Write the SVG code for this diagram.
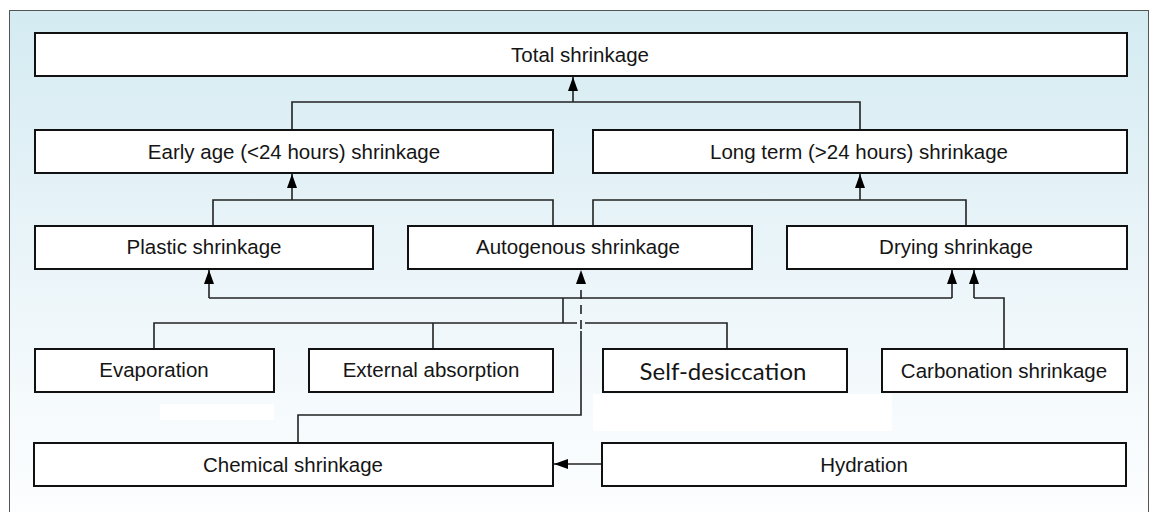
<svg xmlns="http://www.w3.org/2000/svg" width="1151" height="512" viewBox="0 0 1151 512">
  <defs>
    <linearGradient id="bg" x1="0" y1="0" x2="0" y2="1">
      <stop offset="0" stop-color="#d4ebf2"/>
      <stop offset="0.5" stop-color="#ebf5f9"/>
      <stop offset="0.75" stop-color="#f5fafc"/>
      <stop offset="1" stop-color="#fdfeff"/>
    </linearGradient>
    <marker id="arr" markerUnits="userSpaceOnUse" markerWidth="15" markerHeight="11" refX="14" refY="5" orient="auto">
      <path d="M0,0 L14,5 L0,10 z" fill="#000"/>
    </marker>
    <style>
      .box { fill: #ffffff; stroke: #111; stroke-width: 2; }
      .lbl { font-family: "Liberation Sans", Arial, sans-serif; font-size: 20.5px; fill: #151515; text-anchor: middle; }
      .cal { font-family: Lato, "Open Sans", sans-serif; font-size: 24px; fill: #151515; text-anchor: middle; }
      .con { fill: none; stroke: #222; stroke-width: 1.6; }
      .dash { fill: none; stroke: #222; stroke-width: 1.6; stroke-dasharray: 9 6; }
    </style>
  </defs>

  <rect x="0" y="0" width="1151" height="512" fill="#ffffff"/>
  <rect x="9.5" y="10.5" width="1139" height="520" fill="url(#bg)" stroke="#555" stroke-width="1"/>
  <rect x="593" y="394" width="299" height="37" fill="#ffffff"/>
  <rect x="160" y="404" width="114" height="16" fill="#ffffff"/>

  <g id="connectors">
    <!-- to Total -->
    <path class="con" d="M292,130 V102 H860 V130"/>
    <path class="con" d="M573,102 V77" marker-end="url(#arr)"/>
    <!-- to Early age -->
    <path class="con" d="M213,226 V200 H553 V226"/>
    <path class="con" d="M292,200 V174" marker-end="url(#arr)"/>
    <!-- to Long term -->
    <path class="con" d="M593,226 V200 H966 V226"/>
    <path class="con" d="M860,200 V174" marker-end="url(#arr)"/>
    <!-- row 4 to plastic / drying -->
    <path class="con" d="M209,298 H952"/>
    <path class="con" d="M209,298 V270" marker-end="url(#arr)"/>
    <path class="con" d="M952,298 V270" marker-end="url(#arr)"/>
    <path class="con" d="M563,323 V298"/>
    <path class="con" d="M154,349 V323 H577"/>
    <path class="con" d="M585,323 H727 V349"/>
    <path class="con" d="M433,323 V349"/>
    <!-- carbonation to drying -->
    <path class="con" d="M1004,349 V298 H974"/>
    <path class="con" d="M974,298 V270" marker-end="url(#arr)"/>
    <!-- chemical to autogenous -->
    <path class="con" d="M298,443 V415 H581 V331"/>
    <path class="dash" d="M581,329 V270" marker-end="url(#arr)"/>
    <!-- hydration to chemical -->
    <path class="con" d="M602,464 H554" marker-end="url(#arr)"/>
  </g>

  <g id="total">
    <rect class="box" x="35" y="33" width="1092" height="43"/>
    <text class="lbl" x="580" y="62">Total shrinkage</text>
  </g>
  <g id="early">
    <rect class="box" x="35" y="130" width="518" height="43"/>
    <text class="lbl" x="294" y="159">Early age (&lt;24 hours) shrinkage</text>
  </g>
  <g id="longterm">
    <rect class="box" x="593" y="130" width="534" height="43"/>
    <text class="lbl" x="859" y="159">Long term (&gt;24 hours) shrinkage</text>
  </g>
  <g id="plastic">
    <rect class="box" x="35" y="226" width="338" height="43"/>
    <text class="lbl" x="204" y="254">Plastic shrinkage</text>
  </g>
  <g id="autogenous">
    <rect class="box" x="408" y="226" width="344" height="43"/>
    <text class="lbl" x="578" y="254">Autogenous shrinkage</text>
  </g>
  <g id="drying">
    <rect class="box" x="787" y="226" width="340" height="43"/>
    <text class="lbl" x="956" y="254">Drying shrinkage</text>
  </g>
  <g id="evaporation">
    <rect class="box" x="35" y="349" width="239" height="43"/>
    <text class="lbl" x="154" y="377">Evaporation</text>
  </g>
  <g id="external">
    <rect class="box" x="309" y="349" width="244" height="43"/>
    <text class="lbl" x="431" y="377">External absorption</text>
  </g>
  <g id="selfdesiccation">
    <rect class="box" x="603" y="349" width="244" height="43"/>
    <text class="cal" x="723" y="380">Self-desiccation</text>
  </g>
  <g id="carbonation">
    <rect class="box" x="882" y="349" width="245" height="43"/>
    <text class="lbl" x="1004" y="378">Carbonation shrinkage</text>
  </g>
  <g id="chemical">
    <rect class="box" x="34" y="443" width="519" height="43"/>
    <text class="lbl" x="293" y="472">Chemical shrinkage</text>
  </g>
  <g id="hydration">
    <rect class="box" x="602" y="443" width="524" height="43"/>
    <text class="lbl" x="864" y="472">Hydration</text>
  </g>
</svg>
